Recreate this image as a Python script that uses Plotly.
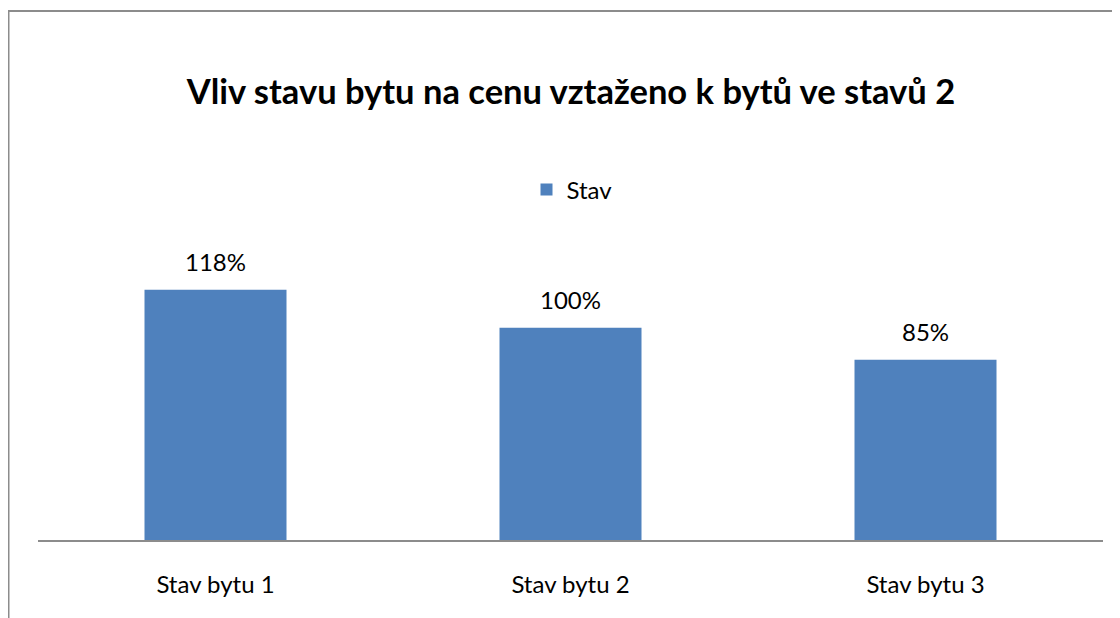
import plotly.graph_objects as go

categories = ["Stav bytu 1", "Stav bytu 2", "Stav bytu 3"]
values = [1.18, 1.00, 0.85]
labels = ["118%", "100%", "85%"]
series_name = "Stav"
title = "Vliv stavu bytu na cenu vztaženo k bytů ve stavů 2"

BLUE = "#4f81bd"
FONT = "Lato"
OFF = 8  # default body margin of the html page

fig = go.Figure()
fig.add_trace(go.Bar(
    x=categories, y=values, name=series_name,
    marker=dict(color=BLUE, line=dict(width=0)),
    width=0.4, showlegend=True,
))

for c, v, t in zip(categories, values, labels):
    fig.add_annotation(x=c, y=v, text=t, showarrow=False, yanchor="bottom",
                       yshift=12, font=dict(family=FONT, size=24, color="#000"))

W, H = 1120 - OFF, 618 - OFF
ml, mr, mt, mb = 30, 17, 235, 78
plot_w = W - ml - mr
plot_h = H - mt - mb

def px_x(px):
    return (px - OFF - ml) / plot_w

def px_y(py):
    return (H - mb - (py - OFF)) / plot_h

fig.add_shape(type="rect", xref="paper", yref="paper",
              x0=px_x(8.5), x1=px_x(1140), y0=px_y(11), y1=px_y(650),
              line=dict(color="#8c8c8c", width=2), layer="below")

fig.update_layout(
    width=W, height=H,
    margin=dict(l=ml, r=mr, t=mt, b=mb),
    paper_bgcolor="white", plot_bgcolor="white",
    title=dict(text="<b>" + title + "</b>", x=(571 - OFF) / W, xanchor="center",
               y=1 - (92 - OFF) / H, yanchor="middle",
               font=dict(family=FONT, size=34.5, color="#000")),
    legend=dict(orientation="h", x=px_x(572), xanchor="center",
                y=px_y(190), yanchor="middle",
                font=dict(family=FONT, size=24, color="#000"),
                bgcolor="rgba(0,0,0,0)"),
    xaxis=dict(showline=True, linecolor="#8c8c8c", linewidth=1.5,
               showgrid=False, ticks="", ticklabelstandoff=22,
               tickfont=dict(family=FONT, size=24, color="#000")),
    yaxis=dict(range=[0, 1.40], visible=False, showgrid=False,
               zeroline=False, tickformat=".0%"),
)

fig.write_html("out.html")
